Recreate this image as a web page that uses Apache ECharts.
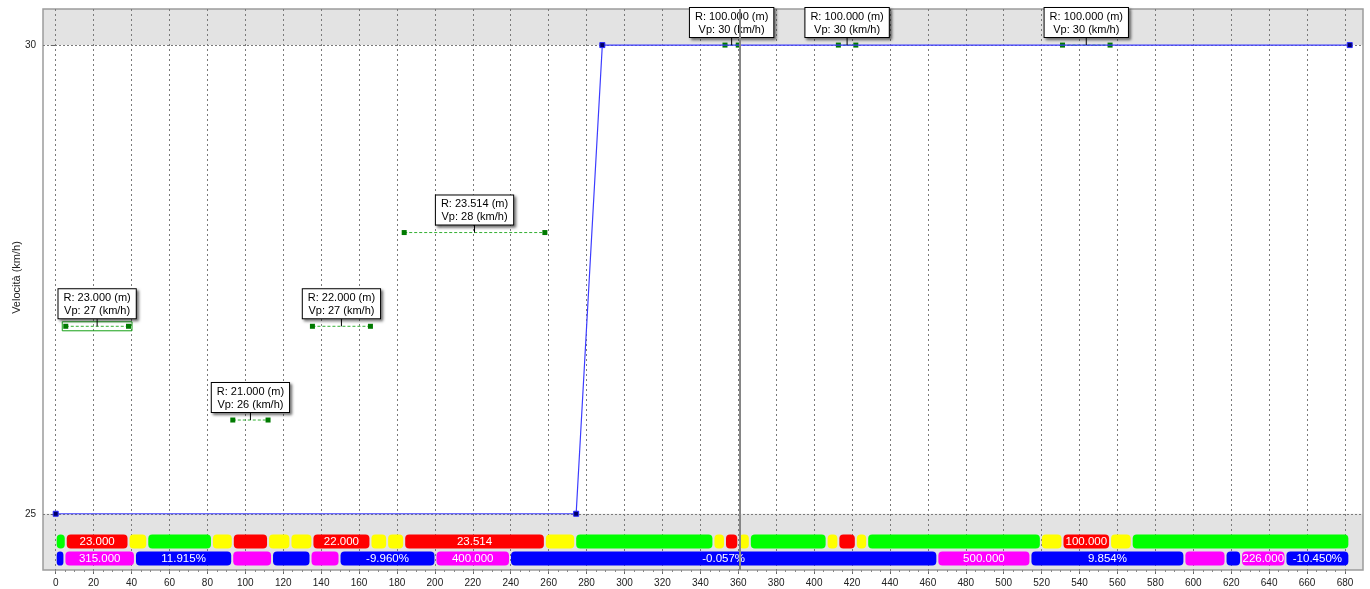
<!DOCTYPE html>
<html>
<head>
<meta charset="utf-8">
<script src="https://cdn.jsdelivr.net/npm/echarts@6/dist/echarts.min.js"></script>
<style>
html, body { margin: 0; padding: 0; background: #ffffff; }
#chart { width: 1370px; height: 589px; }
</style>
</head>
<body>
<div id="chart"></div>
<script>
// Axis ticks (progressive in m, speed in km/h)
const xTicks = [0, 20, 40, 60, 80, 100, 120, 140, 160, 180, 200, 220, 240, 260, 280, 300, 320, 340,
  360, 380, 400, 420, 440, 460, 480, 500, 520, 540, 560, 580, 600, 620, 640, 660, 680];
const yTicks = [25, 30];

// Design speed profile
const profileDist = [0, 274.5, 288.3, 682.5];
const profileSpeed = [25, 25, 30, 30];

// Circular curves: extent, radius and speed
const curveStart = [5.3, 93.4, 135.4, 183.8, 353.0, 412.8, 531.0];
const curveEnd = [38.4, 112.0, 166.0, 258.0, 360.0, 422.0, 556.1];
const curveRadius = ['23.000', '21.000', '22.000', '23.514', '100.000', '100.000', '100.000'];
const curveSpeed = [27, 26, 27, 28, 30, 30, 30];
const selectedCurve = 0;

// Horizontal alignment strip: T tangent, S spiral, C curve
const planBreaks = [0, 5.3, 38.4, 48.3, 82.4, 93.4, 112.0, 123.8, 135.4, 166.0, 174.8, 183.8, 258.0,
  274.0, 346.9, 353.0, 360.0, 366.1, 406.6, 412.8, 422.0, 428.0, 519.6, 531.0, 556.1, 567.5, 682.3];
const planKinds = ['T', 'C', 'S', 'T', 'S', 'C', 'S', 'S', 'C', 'S', 'S', 'C', 'S', 'T', 'S', 'C', 'S',
  'T', 'S', 'C', 'S', 'T', 'S', 'C', 'S', 'T'];
const planLabels = ['', '23.000', '', '', '', '', '', '', '22.000', '', '', '23.514', '', '', '', '', '',
  '', '', '', '', '', '', '100.000', '', ''];

// Vertical alignment strip: G grade, V vertical curve
const vertBreaks = [0, 4.6, 41.8, 93.1, 114.1, 134.4, 149.7, 200.3, 239.6, 465.0, 514.1, 595.3, 617.0,
  625.2, 648.6, 682.3];
const vertKinds = ['G', 'V', 'G', 'V', 'G', 'V', 'G', 'V', 'G', 'V', 'G', 'V', 'G', 'V', 'G'];
const vertLabels = ['', '315.000', '11.915%', '', '', '', '-9.960%', '400.000', '-0.057%', '500.000',
  '9.854%', '', '', '226.000', '-10.450%'];

// Cursor position
const cursorAt = 361;

const FONT = '"Liberation Sans", Arial, sans-serif';
const X_MIN = -6.7, X_MAX = 689.5;
const kindColor = { T: '#00ff00', S: '#ffff00', C: '#ff0000', G: '#0000ff', V: '#ff00ff' };

const minorTicks = [];
for (let v = 0; v <= 680; v += 5) minorTicks.push(v);

// strip rows: [start, end, lane]
const stripRows = [];
const stripMeta = [];
planKinds.forEach((k, i) => {
  stripRows.push([planBreaks[i], planBreaks[i + 1], 0]);
  stripMeta.push({ kind: k, label: planLabels[i] });
});
vertKinds.forEach((k, i) => {
  stripRows.push([vertBreaks[i], vertBreaks[i + 1], 1]);
  stripMeta.push({ kind: k, label: vertLabels[i] });
});

function renderStrip(params, api) {
  const meta = stripMeta[params.dataIndex];
  const lane = api.value(2);
  const p0 = api.coord([api.value(0), lane]);
  const p1 = api.coord([api.value(1), lane]);
  const h = api.size([0, 1])[1] - 3;
  const children = [{
    type: 'rect',
    shape: { x: p0[0] + 1, y: p0[1] - h / 2, width: Math.max(p1[0] - p0[0] - 2, 1), height: h, r: 4 },
    style: { fill: kindColor[meta.kind] }
  }];
  if (meta.label) {
    children.push({
      type: 'text',
      style: {
        text: meta.label, x: (p0[0] + p1[0]) / 2, y: p0[1] + 0.5,
        align: 'center', verticalAlign: 'middle',
        fill: '#ffffff', fontSize: 11.5, fontFamily: FONT
      }
    });
  }
  return { type: 'group', children };
}

const curveLabelData = curveStart.map((s, i) => [(s + curveEnd[i]) / 2, curveSpeed[i]]);

function renderCurveLabel(params, api) {
  const i = params.dataIndex;
  const c = api.coord([api.value(0), api.value(1)]);
  const children = [];
  if (i === selectedCurve) {
    const a = api.coord([curveStart[i], curveSpeed[i]]);
    const b = api.coord([curveEnd[i], curveSpeed[i]]);
    children.push({
      type: 'rect',
      shape: { x: a[0] - 3.5, y: a[1] - 4.5, width: b[0] - a[0] + 7, height: 9 },
      style: { fill: 'none', stroke: '#16a016', lineWidth: 1 }
    });
  }
  children.push({
    type: 'line',
    shape: { x1: c[0], y1: c[1] - 8, x2: c[0], y2: c[1] },
    style: { stroke: '#000000', lineWidth: 1 }
  });
  children.push({
    type: 'text',
    style: {
      text: 'R: ' + curveRadius[i] + ' (m)\nVp: ' + curveSpeed[i] + ' (km/h)',
      x: c[0], y: c[1] - 8,
      align: 'center', verticalAlign: 'bottom',
      fill: '#000000', fontSize: 11, fontFamily: FONT, lineHeight: 13,
      backgroundColor: '#ffffff', borderColor: '#000000', borderWidth: 1,
      padding: [2, 5, 1, 5],
      shadowColor: 'rgba(0,0,0,0.55)', shadowBlur: 3, shadowOffsetX: 2, shadowOffsetY: 2
    }
  });
  return { type: 'group', children };
}

const curveSeries = curveStart.map((s, i) => ({
  type: 'line',
  xAxisIndex: 0, yAxisIndex: 0,
  data: [[s, curveSpeed[i]], [curveEnd[i], curveSpeed[i]]],
  symbol: 'rect', symbolSize: 5,
  itemStyle: { color: '#007a00' },
  lineStyle: { color: '#33b033', width: 1, type: [3, 2] },
  z: 3, silent: true
}));

const chart = echarts.init(document.getElementById('chart'), null, { renderer: 'canvas' });
chart.setOption({
  animation: false,
  backgroundColor: '#ffffff',
  grid: [
    { left: 43, right: 7, top: 9, bottom: 19, outerBoundsMode: 'none', containLabel: false,
      show: true, borderColor: '#9c9c9c', borderWidth: 1.5, backgroundColor: 'transparent' },
    { left: 43, right: 7, top: 533, height: 34, outerBoundsMode: 'none', containLabel: false }
  ],
  xAxis: [
    {
      type: 'value', gridIndex: 0, min: X_MIN, max: X_MAX, position: 'bottom',
      axisLine: { show: false },
      axisTick: { show: true, customValues: xTicks, length: 4, lineStyle: { color: '#666' } },
      axisLabel: { customValues: xTicks, margin: 8, color: '#222', fontSize: 10, fontFamily: FONT },
      splitLine: { show: true, lineStyle: { color: '#7a7a7a', width: 1, type: [2, 3] } }
    },
    {
      type: 'value', gridIndex: 0, min: X_MIN, max: X_MAX, position: 'bottom', offset: 0,
      axisLine: { show: false },
      axisTick: { show: true, customValues: minorTicks, length: 2, lineStyle: { color: '#888' } },
      axisLabel: { show: false },
      splitLine: { show: false }
    },
    {
      type: 'value', gridIndex: 1, min: X_MIN, max: X_MAX, show: false,
      splitLine: { show: false }
    }
  ],
  yAxis: [
    {
      type: 'value', gridIndex: 0, min: 24.4, max: 30.385,
      name: 'Velocità (km/h)', nameLocation: 'middle', nameGap: 21, nameMoveOverlap: false,
      nameTextStyle: { color: '#222', fontSize: 11, fontFamily: FONT, padding: [0, 0, 0, 24] },
      axisLine: { show: false },
      axisTick: { show: true, customValues: yTicks, length: 5, lineStyle: { color: '#666' } },
      axisLabel: { customValues: yTicks, margin: 7, color: '#222', fontSize: 10, fontFamily: FONT },
      splitLine: { show: true, lineStyle: { color: '#7a7a7a', width: 1, type: [2, 2] } }
    },
    {
      type: 'category', gridIndex: 1, data: ['plan', 'vert'], inverse: true, show: false
    }
  ],
  series: [
    {
      type: 'line',
      xAxisIndex: 0, yAxisIndex: 0,
      data: profileDist.map((d, i) => [d, profileSpeed[i]]),
      symbol: 'rect', symbolSize: 5,
      itemStyle: { color: '#000066', borderColor: '#2a2aff', borderWidth: 1 },
      lineStyle: { color: '#3c3cff', width: 1.2 },
      z: 4, silent: true,
      markArea: {
        silent: true, z: -1,
        itemStyle: { color: '#e3e3e3' },
        data: [
          [{ yAxis: 30 }, { yAxis: 30.385 }],
          [{ yAxis: 24.4 }, { yAxis: 25 }]
        ]
      }
    },
    ...curveSeries,
    {
      type: 'custom',
      xAxisIndex: 2, yAxisIndex: 1,
      data: stripRows,
      encode: { x: [0, 1], y: 2 },
      renderItem: renderStrip,
      z: 3, silent: true
    },
    {
      type: 'custom',
      xAxisIndex: 0, yAxisIndex: 0,
      data: curveLabelData,
      encode: { x: 0, y: 1 },
      renderItem: renderCurveLabel,
      z: 10, silent: true, clip: false
    },
    {
      type: 'line',
      xAxisIndex: 0, yAxisIndex: 0,
      data: [],
      silent: true,
      markLine: {
        silent: true, z: 20, symbol: 'none',
        label: { show: false },
        lineStyle: { color: '#858585', width: 2, type: 'solid' },
        data: [{ xAxis: cursorAt }]
      }
    }
  ]
});
</script>
</body>
</html>
